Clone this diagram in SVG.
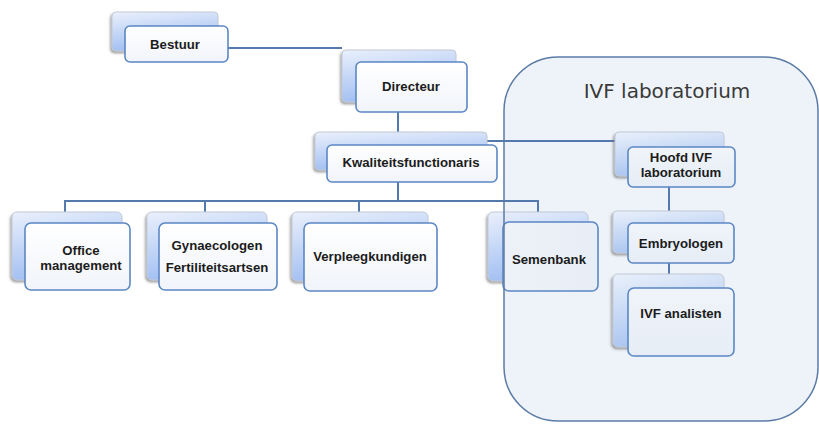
<svg xmlns="http://www.w3.org/2000/svg" width="819" height="424" viewBox="0 0 819 424">
<defs>
<linearGradient id="gBack" x1="0" y1="0" x2="0.3" y2="1">
<stop offset="0" stop-color="#eaf0fc"/>
<stop offset="1" stop-color="#9fbdf1"/>
</linearGradient>
<linearGradient id="gBackIn" x1="0" y1="0" x2="0.3" y2="1">
<stop offset="0" stop-color="#e9f0fb"/>
<stop offset="1" stop-color="#a9c4f0"/>
</linearGradient>
<linearGradient id="gFront" x1="0" y1="0" x2="0" y2="1">
<stop offset="0" stop-color="#ffffff"/>
<stop offset="1" stop-color="#f1f4fa"/>
</linearGradient>
<linearGradient id="gFrontIn" x1="0" y1="0" x2="0" y2="1">
<stop offset="0" stop-color="#f0f4fa"/>
<stop offset="1" stop-color="#e6edf6"/>
</linearGradient>
<linearGradient id="gSemen" gradientUnits="userSpaceOnUse" x1="503" y1="0" x2="598" y2="0">
<stop offset="0.01" stop-color="#fbfcfe"/>
<stop offset="0.01" stop-color="#edf2f8"/>
<stop offset="1" stop-color="#e8eef6"/>
</linearGradient>
<filter id="sh" x="-20%" y="-20%" width="140%" height="140%">
<feDropShadow dx="-1.5" dy="2" stdDeviation="1.2" flood-color="#6b6b6b" flood-opacity="0.6"/>
</filter>
</defs>
<style>
.back{fill:url(#gBack);stroke:#c3cad6;stroke-width:1;filter:url(#sh)}
.backIn{fill:url(#gBackIn);stroke:#c3cad6;stroke-width:1;filter:url(#sh)}
.front{fill:url(#gFront);stroke:#5b87c4;stroke-width:1.6}
.frontIn{fill:url(#gFrontIn);stroke:#5b87c4;stroke-width:1.6}
.lbl{font-family:"Liberation Sans",Arial,sans-serif;font-weight:bold;font-size:13.2px;fill:#1c1c1c;text-anchor:middle}
.conn{fill:none;stroke:#5479ad;stroke-width:2}
.title{font-family:"DejaVu Sans",Verdana,sans-serif;font-size:20px;fill:#3a3a3a;text-anchor:middle}
</style>
<rect width="819" height="424" fill="#ffffff"/>
<g id="ivf-laboratorium-bg">
<rect x="504" y="57" width="314" height="364" rx="54" fill="#eef3f9"/>
</g>
<g id="connectors">
<path class="conn" d="M228,48 H342"/>
<path class="conn" d="M398,104 V201"/>
<path class="conn" d="M65,212 V201 H538 V212"/>
<path class="conn" d="M205,201 V212"/>
<path class="conn" d="M359,201 V212"/>
<path class="conn" d="M487,141 H615"/>
<path class="conn" d="M669,180 V211"/>
<path class="conn" d="M669,255 V274"/>
</g>
<g id="bestuur">
<rect class="back" x="112" y="12" width="106" height="39" rx="4"/>
<rect class="front" x="125" y="26" width="103" height="36" rx="5"/>
<text class="lbl" x="175" y="49">Bestuur</text>
</g>
<g id="directeur">
<rect class="back" x="342" y="50" width="114" height="52" rx="4"/>
<rect class="front" x="356" y="62" width="111" height="50" rx="5"/>
<text class="lbl" x="411" y="91">Directeur</text>
</g>
<g id="kwaliteitsfunctionaris">
<rect class="back" x="315" y="132" width="172" height="38" rx="4"/>
<rect class="front" x="327" y="145" width="170" height="37" rx="5"/>
<text class="lbl" x="411" y="167">Kwaliteitsfunctionaris</text>
</g>
<g id="office">
<rect class="back" x="12" y="212" width="110" height="68" rx="5"/>
<rect class="front" x="25" y="223" width="105" height="67" rx="6"/>
<text class="lbl" x="81" y="255">Office</text>
<text class="lbl" x="81" y="270">management</text>
</g>
<g id="gynaecologen">
<rect class="back" x="147" y="212" width="120" height="68" rx="5"/>
<rect class="front" x="159" y="223" width="118" height="67" rx="6"/>
<text class="lbl" x="217" y="250">Gynaecologen</text>
<text class="lbl" x="217" y="272">Fertiliteitsartsen</text>
</g>
<g id="verpleegkundigen">
<rect class="back" x="292" y="212" width="136" height="69" rx="5"/>
<rect class="front" x="304" y="223" width="133" height="68" rx="6"/>
<text class="lbl" x="370" y="261">Verpleegkundigen</text>
</g>
<g id="semenbank">
<rect class="back" x="488" y="212" width="100" height="69" rx="5"/>
<rect x="503" y="222" width="95" height="69" rx="6" fill="url(#gSemen)" stroke="#5b87c4" stroke-width="1.6"/>
<text class="lbl" x="549" y="264">Semenbank</text>
</g>
<g id="hoofd-ivf">
<rect class="backIn" x="615" y="132" width="109" height="44" rx="4"/>
<rect class="frontIn" x="628" y="147" width="107" height="40" rx="5"/>
<text class="lbl" x="681" y="162">Hoofd IVF</text>
<text class="lbl" x="681" y="177">laboratorium</text>
</g>
<g id="embryologen">
<rect class="backIn" x="613" y="211" width="111" height="42" rx="4"/>
<rect class="frontIn" x="628" y="223" width="106" height="40" rx="5"/>
<text class="lbl" x="681" y="248">Embryologen</text>
</g>
<g id="ivf-analisten">
<rect class="backIn" x="613" y="274" width="111" height="73" rx="5"/>
<rect class="frontIn" x="628" y="288" width="106" height="68" rx="6"/>
<text class="lbl" x="681" y="318">IVF analisten</text>
</g>
<g id="ivf-laboratorium">
<rect x="504" y="57" width="314" height="364" rx="54" fill="none" stroke="#5b7ba6" stroke-width="1.5"/>
<text class="title" x="667" y="98">IVF laboratorium</text>
</g>
</svg>
